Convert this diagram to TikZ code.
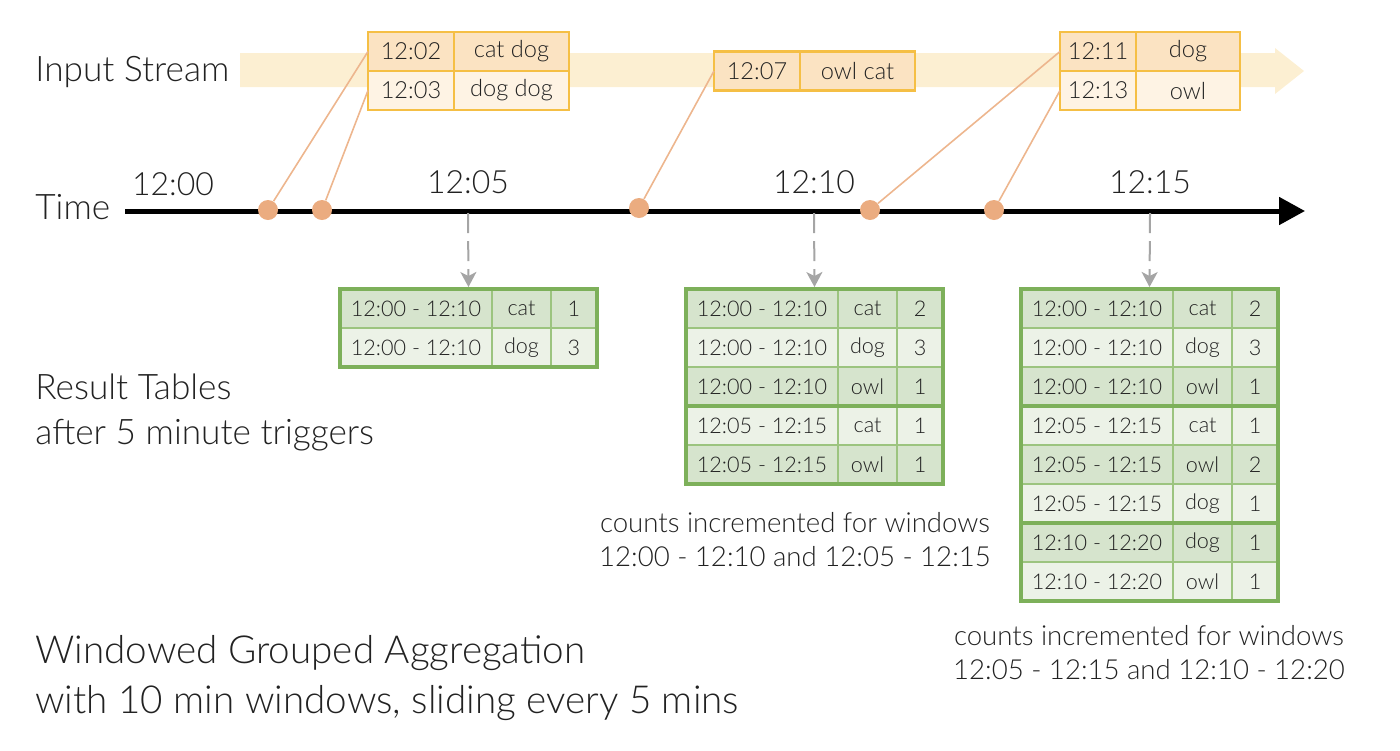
\documentclass[tikz,border=0pt]{standalone}
\usepackage{fontspec}
\setmainfont{Lato}[UprightFont=* Light]
\usepackage{xcolor}
\usetikzlibrary{positioning,arrows.meta,calc}
\definecolor{ink}{HTML}{222222}
\definecolor{band}{HTML}{FCEFD2}
\definecolor{boxline}{HTML}{F5BF45}
\definecolor{peachA}{HTML}{FBE3C2}
\definecolor{peachB}{HTML}{FEF3E4}
\definecolor{dotc}{HTML}{EBAC80}
\definecolor{linkc}{HTML}{EDB68E}
\definecolor{grn}{HTML}{7DB05A}
\definecolor{grnthin}{HTML}{9CC47F}
\definecolor{grnA}{HTML}{D6E4CD}
\definecolor{grnB}{HTML}{ECF2E7}
\definecolor{dashc}{HTML}{A5A5A5}

% one result table: name, left x, rows window/key/count
\newcommand{\restable}[3]{%
  \foreach \w/\k/\n [count=\i] in {#3} {
    \ifodd\i\relax \def\rowfill{grnA}\else \def\rowfill{grnB}\fi
    \node[win, fill=\rowfill] (#1w\i) at (#2, {289+39*(\i-0.5)}) {\w};
    \node[key, fill=\rowfill, right=of #1w\i] (#1k\i) {\k};
    \node[cnt, fill=\rowfill, right=of #1k\i] (#1n\i) {\n};
  }}

\begin{document}
\begin{tikzpicture}[x=0.5pt, y=-0.5pt, node distance=0pt, text=ink,
  font=\fontsize{10.8}{13}\selectfont,
  big/.style={anchor=west, align=left, inner sep=0pt, font=\fontsize{17.6}{22.5}\selectfont},
  title/.style={anchor=west, align=left, inner sep=0pt, font=\fontsize{19.3}{25}\selectfont},
  note/.style={align=center, font=\fontsize{13.8}{17}\selectfont},
  tick/.style={font=\fontsize{16}{19}\selectfont},
  cell/.style={draw=grnthin, line width=0.8pt, minimum height=19.5pt, inner sep=0pt, outer sep=0pt, anchor=west},
  win/.style={cell, minimum width=76pt},
  key/.style={cell, minimum width=29.5pt},
  cnt/.style={cell, minimum width=23pt},
  tabline/.style={draw=grn, line width=2pt},
  icell/.style={draw=boxline, line width=1.2pt, minimum height=19.5pt, inner sep=0pt, outer sep=0pt, anchor=west, font=\fontsize{11.8}{14}\selectfont},
  evt/.style={circle, fill=dotc, minimum size=10pt, inner sep=0pt},
  link/.style={draw=linkc, line width=0.8pt},
  trig/.style={draw=dashc, line width=1pt, dash pattern=on 10pt off 4pt, -{Stealth[length=7.5pt, width=8pt, inset=2pt]}, shorten >=1pt}]
\useasboundingbox (0,0) rectangle (1400,750);

% input stream band
\fill[band] (240,53) -- (1275,53) -- (1275,48) -- (1304,71) -- (1275,94) -- (1275,87) -- (240,87) -- cycle;
\node[big] (instream) at (35,72) {Input Stream};

% input events
\node[icell, fill=peachA, minimum width=43pt] (b1t1) at (368,51.5) {12:02};
\node[icell, fill=peachA, minimum width=57.5pt, right=of b1t1] (b1v1) {cat dog};
\node[icell, fill=peachB, minimum width=43pt] (b1t2) at (368,90.5) {12:03};
\node[icell, fill=peachB, minimum width=57.5pt, right=of b1t2] (b1v2) {dog dog};
\node[icell, fill=peachA, minimum width=43pt] (b2t1) at (714,71) {12:07};
\node[icell, fill=peachA, minimum width=57.5pt, right=of b2t1] (b2v1) {owl cat};
\node[icell, fill=peachA, minimum width=38pt] (b3t1) at (1060,51.5) {12:11};
\node[icell, fill=peachA, minimum width=52pt, right=of b3t1] (b3v1) {dog};
\node[icell, fill=peachB, minimum width=38pt] (b3t2) at (1060,90.5) {12:13};
\node[icell, fill=peachB, minimum width=52pt, right=of b3t2] (b3v2) {owl};

% time axis
\node[big] (time) at (35,207) {Time};
\coordinate (tstart) at (125,211);
\coordinate (tend) at (1305,211);
\draw[line width=2.5pt, -{Triangle[length=13pt, width=13.5pt]}] (tstart) -- (tend);
\node[tick] (l00) at (173,184) {12:00};
\node[tick] (l05) at (468,182) {12:05};
\node[tick] (l10) at (814,182) {12:10};
\node[tick] (l15) at (1150,182) {12:15};

\node[evt] (d1) at (268,210) {};
\node[evt] (d2) at (322,210) {};
\node[evt] (d3) at (639,208) {};
\node[evt] (d4) at (870,210) {};
\node[evt] (d5) at (994,210) {};
\draw[link] (d1) -- (b1t1.west);
\draw[link] (d2) -- (b1t2.west);
\draw[link] (d3) -- (b2t1.west);
\draw[link] (d4) -- (b3t1.west);
\draw[link] (d5) -- (b3t2.west);

% result tables
\restable{t1}{340}{12:00 - 12:10/cat/1, 12:00 - 12:10/dog/3}
\restable{t2}{686}{12:00 - 12:10/cat/2, 12:00 - 12:10/dog/3, 12:00 - 12:10/owl/1,
  12:05 - 12:15/cat/1, 12:05 - 12:15/owl/1}
\restable{t3}{1021}{12:00 - 12:10/cat/2, 12:00 - 12:10/dog/3, 12:00 - 12:10/owl/1,
  12:05 - 12:15/cat/1, 12:05 - 12:15/owl/2, 12:05 - 12:15/dog/1,
  12:10 - 12:20/dog/1, 12:10 - 12:20/owl/1}
\draw[tabline] (t1w1.north west) rectangle (t1n2.south east);
\draw[tabline] (t2w1.north west) rectangle (t2n5.south east);
\draw[tabline] (t2w3.south west) -- (t2n3.south east);
\draw[tabline] (t3w1.north west) rectangle (t3n8.south east);
\draw[tabline] (t3w3.south west) -- (t3n3.south east);
\draw[tabline] (t3w6.south west) -- (t3n6.south east);

% triggers
\coordinate (k05) at (468,213);
\coordinate (k10) at (814,213);
\coordinate (k15) at (1150,213);
\coordinate (t1top) at ($(t1w1.north west)!.5!(t1n1.north east)$);
\coordinate (t2top) at ($(t2w1.north west)!.5!(t2n1.north east)$);
\coordinate (t3top) at ($(t3w1.north west)!.5!(t3n1.north east)$);
\draw[trig] (k05) -- (t1top);
\draw[trig] (k10) -- (t2top);
\draw[trig] (k15) -- (t3top);

% texts
\node[big] (restitle) at (35,412) {Result Tables\\after 5 minute triggers};
\node[note] (note2) at (795,540) {counts incremented for windows\\12:00 - 12:10 and 12:05 - 12:15};
\node[note] (note3) at (1149,653) {counts incremented for windows\\12:05 - 12:15 and 12:10 - 12:20};
\node[title] (caption) at (35,678) {Windowed Grouped Aggregation\\with 10 min windows, sliding every 5 mins};
\end{tikzpicture}
\end{document}
